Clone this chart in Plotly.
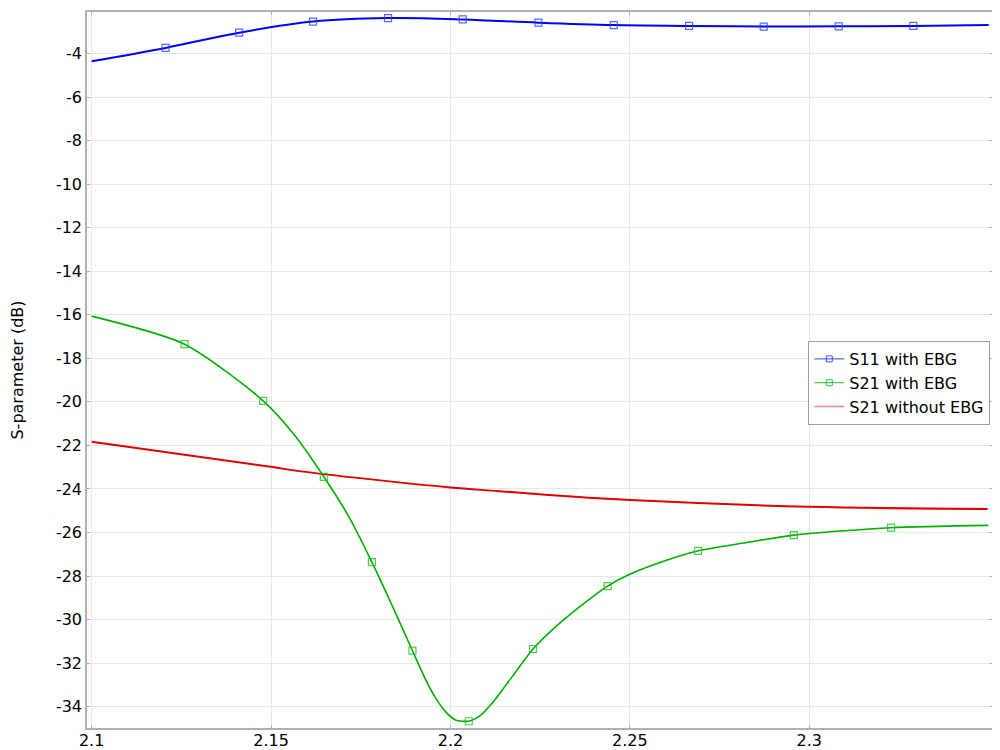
import plotly.graph_objects as go

# ---- data ----
s11_x = [2.1, 2.1206, 2.1411, 2.1617, 2.1826, 2.2034, 2.2245, 2.2455, 2.2665, 2.2873, 2.3082, 2.3290, 2.35]
s11_y = [-4.35, -3.74, -3.04, -2.53, -2.37, -2.43, -2.58, -2.69, -2.73, -2.76, -2.75, -2.73, -2.69]
s11_mx = s11_x[1:-1]
s11_my = s11_y[1:-1]

s21e_x = [2.1, 2.1259, 2.1478, 2.1564, 2.1647, 2.1717, 2.1781, 2.1847, 2.1894,
          2.1931, 2.1959, 2.1986, 2.2014, 2.2051, 2.2079, 2.2116, 2.2172, 2.2230, 2.2283,
          2.2357, 2.2438, 2.2501, 2.2598, 2.2690, 2.2830, 2.2957, 2.3228, 2.3499]
s21e_y = [-16.06, -17.35, -19.95, -21.5, -23.44, -25.28, -27.36, -29.70, -31.43,
          -32.77, -33.61, -34.23, -34.61, -34.67, -34.46, -33.84, -32.62, -31.35, -30.48,
          -29.45, -28.46, -27.91, -27.30, -26.84, -26.45, -26.12, -25.78, -25.67]
s21e_mx = [2.1259, 2.1478, 2.1647, 2.1781, 2.1894, 2.2051, 2.2230, 2.2438, 2.2690, 2.2957, 2.3228]
s21e_my = [-17.35, -19.95, -23.44, -27.36, -31.43, -34.67, -31.35, -28.46, -26.84, -26.12, -25.78]

s21n_x = [2.1, 2.1499, 2.1578, 2.1823, 2.2000, 2.2135, 2.2274, 2.2501, 2.3001, 2.3497]
s21n_y = [-21.83, -22.98, -23.18, -23.64, -23.93, -24.10, -24.28, -24.51, -24.82, -24.92]

x_ticks = [2.1, 2.15, 2.2, 2.25, 2.3]
x_labels = ["2.1", "2.15", "2.2", "2.25", "2.3"]
y_ticks = list(range(-34, -3, 2))
y_labels = [str(v) for v in y_ticks]

names = ["S11 with EBG", "S21 with EBG", "S21 without EBG"]

BLUE = "#0000ff"
GREEN = "#00b000"
RED = "#e00000"
FONT = "DejaVu Sans"

fig = go.Figure()
# lines
fig.add_trace(go.Scatter(x=s11_x, y=s11_y, mode="lines", line=dict(color=BLUE, width=2, shape="spline"),
                         showlegend=False, hoverinfo="skip"))
fig.add_trace(go.Scatter(x=s21e_x, y=s21e_y, mode="lines", line=dict(color=GREEN, width=1.6, shape="spline", smoothing=0.7),
                         showlegend=False, hoverinfo="skip"))
fig.add_trace(go.Scatter(x=s21n_x, y=s21n_y, mode="lines", line=dict(color=RED, width=2, shape="spline"),
                         showlegend=False, hoverinfo="skip"))
# markers
fig.add_trace(go.Scatter(x=s11_mx, y=s11_my, mode="markers",
                         marker=dict(symbol="square-open", size=7, color="rgba(40,70,255,0.8)", line=dict(width=1.2)),
                         showlegend=False))
fig.add_trace(go.Scatter(x=s21e_mx, y=s21e_my, mode="markers",
                         marker=dict(symbol="square-open", size=7, color="rgba(40,185,40,0.8)", line=dict(width=1.2)),
                         showlegend=False))
# legend entries
fig.add_trace(go.Scatter(x=[None], y=[None], mode="lines+markers", name=names[0],
                         line=dict(color="rgba(40,70,255,0.8)", width=1.2),
                         marker=dict(symbol="square-open", size=6, color="rgba(40,70,255,0.9)")))
fig.add_trace(go.Scatter(x=[None], y=[None], mode="lines+markers", name=names[1],
                         line=dict(color="rgba(40,185,40,0.8)", width=1.2),
                         marker=dict(symbol="square-open", size=6, color="rgba(40,185,40,0.9)")))
fig.add_trace(go.Scatter(x=[None], y=[None], mode="lines", name=names[2],
                         line=dict(color="rgba(230,120,120,0.9)", width=1.5)))

# page body has an 8px default margin -> figure is 992x742 and margins shifted by 8
fig.update_layout(
    width=992, height=742,
    margin=dict(l=79, r=7, t=4, b=22),
    paper_bgcolor="white", plot_bgcolor="white",
    font=dict(family=FONT, size=16, color="black"),
    legend=dict(x=0.997, y=0.5405, xanchor="right", yanchor="top",
                bgcolor="white", bordercolor="#a0a0a0", borderwidth=1,
                font=dict(family=FONT, size=16), itemwidth=30, tracegroupgap=0),
    xaxis=dict(range=[2.0987, 2.3512], tickvals=x_ticks, ticktext=x_labels, automargin=False,
               showgrid=True, gridcolor="#e8e8e8", gridwidth=1,
               showline=True, linecolor="#b0b0b0", linewidth=1.5, mirror="ticks",
               ticks="inside", ticklen=3, tickcolor="#b0b0b0", zeroline=False,
               ticklabelstandoff=-3,
               tickfont=dict(family=FONT, size=16)),
    yaxis=dict(range=[-34.98, -2.09], tickvals=y_ticks, ticktext=y_labels, automargin=False,
               showgrid=True, gridcolor="#e8e8e8", gridwidth=1,
               showline=True, linecolor="#b0b0b0", linewidth=1.5, mirror="ticks",
               ticks="inside", ticklen=3, tickcolor="#b0b0b0", zeroline=False,
               tickfont=dict(family=FONT, size=16),
               title=dict(text="S-parameter (dB)", font=dict(family=FONT, size=16), standoff=29)),
)

fig.write_html("out.html")
